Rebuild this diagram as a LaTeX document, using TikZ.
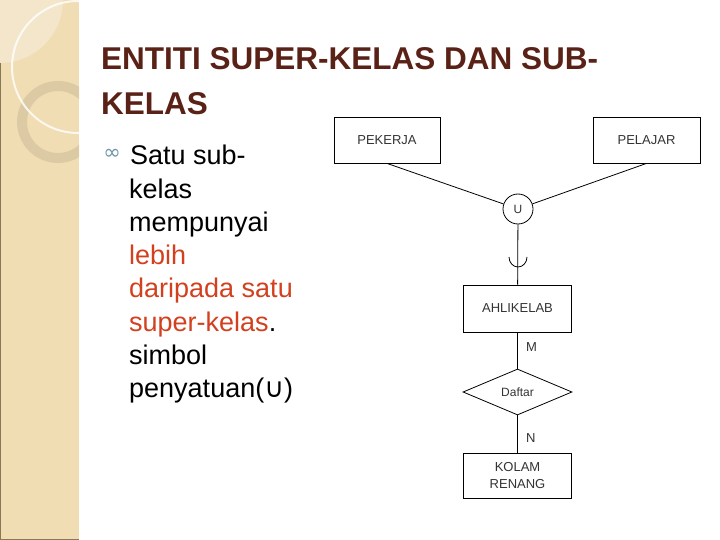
\documentclass[tikz,border=0pt]{standalone}
\usepackage{fontspec}
\setmainfont{Liberation Sans}
\newfontfamily\dejavu{DejaVu Sans}
\usetikzlibrary{shapes.geometric,positioning}

\definecolor{judul}{HTML}{5A2216}
\definecolor{merah}{HTML}{D2401E}
\definecolor{peluru}{HTML}{6C98A6}
\definecolor{sisi}{HTML}{F0DDB3}
\definecolor{sisiterang}{HTML}{F4E6CB}
\definecolor{cincin}{HTML}{D8C7A2}
\definecolor{tepi}{HTML}{8A7755}
\definecolor{teksabu}{HTML}{333333}

\newcommand{\merahteks}[1]{\textcolor{merah}{#1}}

\begin{document}
\begin{tikzpicture}[x=1pt,y=-1pt,node distance=83.5pt,
                    entity node/.style={rectangle,draw,line width=0.8pt,minimum width=108pt,
                      minimum height=46pt,inner sep=2pt,align=center,text=teksabu,
                      font=\fontsize{13}{16}\selectfont},
                    union node/.style={circle,draw,line width=0.8pt,minimum size=30pt,inner sep=0pt,
                      text=teksabu,font=\fontsize{12}{14}\selectfont},
                    relation node/.style={diamond,draw,line width=0.8pt,minimum width=109pt,
                      minimum height=46pt,inner sep=0pt,text=teksabu,font=\fontsize{12}{14}\selectfont},
                    card label/.style={text=teksabu,font=\fontsize{13}{15}\selectfont},
                    body text/.style={anchor=base west,inner sep=0pt,font=\fontsize{27}{33}\selectfont},
                    title text/.style={anchor=base west,inner sep=0pt,text=judul,
                      font=\fontsize{31.5}{38}\selectfont\bfseries}]

  \useasboundingbox (0,0) rectangle (720,540);

  % side band
  \fill[sisi] (0,0) rectangle (79,540);
  \begin{scope}
    \clip (0,0) rectangle (79,540);
    \fill[sisiterang] (0,0) circle (63pt);
    \draw[cincin,line width=10pt,opacity=0.85] (58,122) circle (36pt);
    \draw[white,line width=2pt,opacity=0.8] (78,67) circle (66pt);
  \end{scope}
  \draw[tepi,line width=1.2pt] (0.6,63) -- (0.6,539.4) -- (79,539.4);

  % title
  \node[title text] (judul1) at (101,70) {ENTITI SUPER-KELAS DAN SUB-};
  \node[title text] (judul2) at (101,115) {KELAS};

  % bullet text
  \node[text=peluru,font=\dejavu\fontsize{21}{21}\selectfont,inner sep=0pt] (peluru) at (112,154) {∞};
  \foreach \baris [count=\i] in {{Satu sub-},{kelas},{mempunyai},{\merahteks{lebih}},
      {\merahteks{daripada satu}},{\merahteks{super-kelas}.},{simbol},{penyatuan({\dejavu ∪})}}
    \node[body text] (baris\i) at ({\ifnum\i=1 130\else 129\fi},{131.8+33.2*\i}) {\baris};

  % diagram
  \node[entity node,minimum width=106pt] (pekerja) at (387,140) {PEKERJA};
  \node[entity node,minimum width=107pt] (pelajar) at (646.5,140) {PELAJAR};
  \node[union node] (u) at (518,209) {U};
  \node[entity node,minimum height=47pt] (ahli) at (517.5,308.5) {AHLIKELAB};
  \node[relation node] (daftar) [below of=ahli] {Daftar};
  \node[entity node,minimum height=45pt,font=\fontsize{13}{17}\selectfont] (kolam) [below of=daftar] {KOLAM\\RENANG};

  \path[line width=0.8pt]
    (pekerja.south) edge (u)
    (pelajar.south) edge (u)
    (u) edge (ahli)
    (ahli) edge node[card label,right=5pt,pos=0.4] {M} (daftar)
    (daftar) edge node[card label,right=5pt,pos=0.62] {N} (kolam);

  % subset mark
  \coordinate (cawan) at (509,257);
  \draw[line width=0.8pt] (cawan) arc (180:360:9pt and 10pt);

\end{tikzpicture}
\end{document}
